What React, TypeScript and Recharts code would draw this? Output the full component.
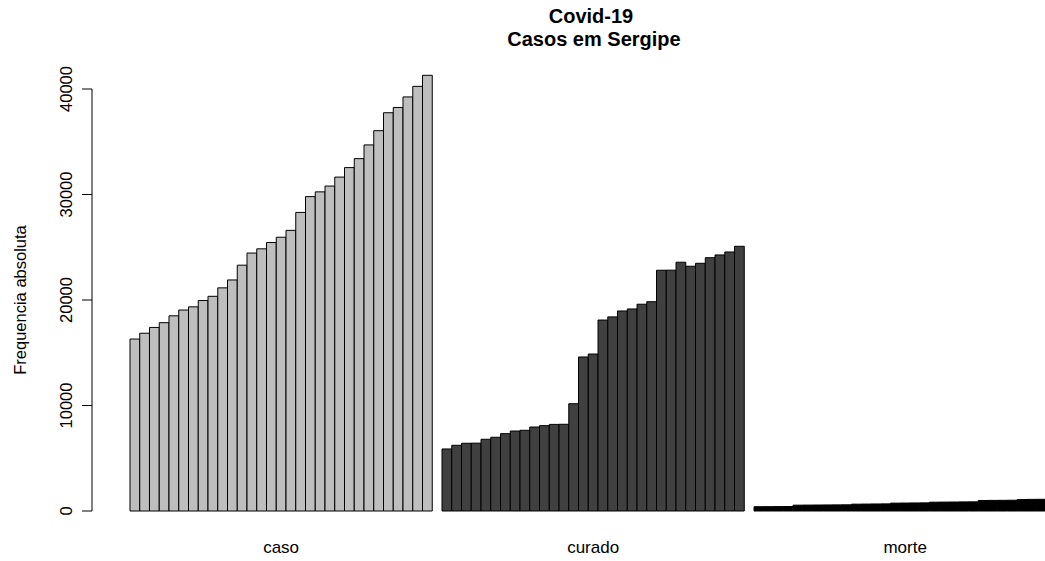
import React from 'react';
import { BarChart, Bar, XAxis, YAxis, Cell, ReferenceLine } from 'recharts';

// valores (31 dias)
const categorias = ['caso', 'curado', 'morte'];

const caso = [
  16300, 16850, 17400, 17850, 18500, 19050, 19350, 19950, 20350, 21150,
  21900, 23300, 24450, 24850, 25450, 25950, 26600, 28300, 29800, 30250,
  30800, 31650, 32550, 33400, 34700, 36050, 37750, 38250, 39250, 40250,
  41300,
];

const curado = [
  5880, 6230, 6420, 6430, 6800, 6990, 7330, 7580, 7650, 7960,
  8090, 8210, 8220, 10170, 14600, 14880, 18100, 18400, 18960, 19150,
  19600, 19840, 22820, 22830, 23580, 23200, 23480, 24010, 24270, 24550,
  25090,
];

const morte = [
  407, 412, 418, 424, 553, 561, 568, 574, 580, 587,
  650, 659, 667, 676, 747, 755, 763, 771, 838, 846,
  853, 861, 869, 998, 1006, 1013, 1021, 1094, 1102, 1110,
  1118,
];

const yTicks = [0, 10000, 20000, 30000, 40000];

const cores = ['#BEBEBE', '#404040', '#000000'];
const series = [caso, curado, morte];
const FONT = '"Liberation Sans", Arial, Helvetica, sans-serif';

// cada grupo ocupa 31 barras + 1 barra de espaço
const dados = series.flatMap((vals, g) =>
  vals.map((v, i) => ({ x: g * 32 + i + 0.5, valor: v, grupo: g }))
);
const centros = series.map((vals, g) => g * 32 + vals.length / 2);

const YTick = (props: any) => {
  const { x, y, payload } = props;
  return (
    <text
      transform={`translate(${x - 8},${y}) rotate(-90)`}
      textAnchor="middle"
      fontSize={16.5}
      fontFamily={FONT}
      fill="#000"
    >
      {payload.value}
    </text>
  );
};

const App: React.FC = () => {
  return (
    <div style={{ position: 'absolute', left: 0, top: 0, width: 1045, height: 561, overflow: 'hidden', background: '#fff' }}>
      <BarChart
        width={1060}
        height={561}
        data={dados}
        margin={{ top: 67.9, right: 0, left: 0, bottom: 10 }}
        barCategoryGap={0}
        barGap={0}
      >
        <XAxis
          type="number"
          dataKey="x"
          domain={[-3.897, 95.38]}
          allowDataOverflow
          ticks={centros}
          tickFormatter={(v: number) => categorias[centros.indexOf(v)] ?? ''}
          axisLine={false}
          tickLine={false}
          tickSize={6}
          tickMargin={24}
          height={40}
          tick={{ fontSize: 17, fill: '#000', fontFamily: FONT }}
          interval={0}
        />
        <YAxis
          type="number"
          domain={[0, 42000]}
          ticks={yTicks}
          width={92}
          axisLine={false}
          tickLine={{ stroke: '#000' }}
          tickSize={10}
          tickMargin={2}
          tick={<YTick />}
          interval={0}
        />
        <ReferenceLine
          segment={[{ x: -3.897, y: 0 }, { x: -3.897, y: 40000 }]}
          stroke="#000"
          strokeWidth={1}
          ifOverflow="visible"
        />
        <Bar dataKey="valor" barSize={9.75} stroke="#000" strokeWidth={1} isAnimationActive={false}>
          {dados.map((d, i) => (
            <Cell key={i} fill={cores[d.grupo]} />
          ))}
        </Bar>
      </BarChart>
      <svg width={1045} height={561} style={{ position: 'absolute', left: 0, top: 0, pointerEvents: 'none' }}>
        <text x={591} y={23} textAnchor="middle" fontSize={20} fontWeight="bold" fontFamily={FONT} fill="#000">
          Covid-19
        </text>
        <text x={594} y={45.5} textAnchor="middle" fontSize={20} fontWeight="bold" fontFamily={FONT} fill="#000">
          Casos em Sergipe
        </text>
        <text
          transform="translate(26,300) rotate(-90)"
          textAnchor="middle"
          fontSize={16.5}
          fontFamily={FONT}
          fill="#000"
        >
          Frequencia absoluta
        </text>
      </svg>
    </div>
  );
};

export default App;
